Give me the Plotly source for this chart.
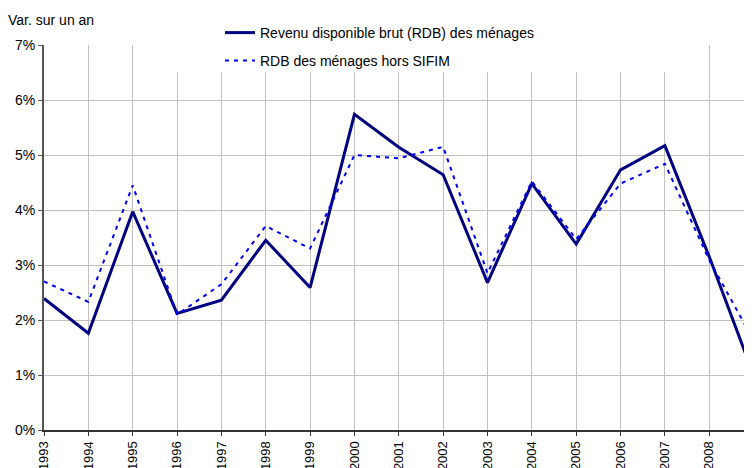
import plotly.graph_objects as go

years = list(range(1993, 2010))
rdb = [2.39, 1.76, 3.97, 2.12, 2.36, 3.45, 2.59, 5.74, 5.14, 4.64, 2.68, 4.48, 3.38, 4.73, 5.17, 3.15, 1.0]
rdb_hors_sifim = [2.70, 2.33, 4.45, 2.10, 2.65, 3.71, 3.30, 5.00, 4.94, 5.15, 2.85, 4.52, 3.47, 4.48, 4.84, 3.09, 1.63]
y_ticks = [0, 1, 2, 3, 4, 5, 6, 7]
y_labels = [f"{v}%" for v in y_ticks]
name1 = "Revenu disponible brut (RDB) des ménages"
name2 = "RDB des ménages hors SIFIM"
ylabel = "Var. sur un an"

# the page body has an 8px default margin: figure is offset by 8px
OFF = 8
W, H = 752, 468 - OFF
ML, MR, MT, MB = 44 - OFF, OFF, 45 - OFF, H - (430 - OFF)
pw = W - ML - MR
ph = H - MT - MB
step = 44.35

def px_x(p):
    return (p - OFF - ML) / pw

def px_y(p):
    return (H - MB - (p - OFF)) / ph

font = "Liberation Sans, Arial, sans-serif"

fig = go.Figure()
fig.add_trace(go.Scatter(x=years, y=rdb, mode="lines", name=name1,
                         line=dict(color="#000080", width=3), legend="legend"))
fig.add_trace(go.Scatter(x=years, y=rdb_hors_sifim, mode="lines", name=name2,
                         line=dict(color="#0000FF", width=2, dash="4px,5px"), legend="legend2"))

x_end = 1993 + pw / step

fig.update_layout(
    width=W, height=H,
    margin=dict(l=ML, r=MR, t=MT, b=MB, pad=0, autoexpand=False),
    paper_bgcolor="white", plot_bgcolor="white",
    font=dict(family=font, size=14, color="#000000"),
    xaxis=dict(range=[1993, x_end], tickmode="array", tickvals=years,
               ticktext=[str(y) for y in years], tickangle=-90, automargin=False,
               showgrid=True, gridcolor="#c0c0c0", gridwidth=1,
               showline=True, linecolor="#333333", linewidth=2,
               ticks="outside", ticklen=4, tickcolor="#333333",
               tickfont=dict(size=13, family=font), zeroline=False),
    yaxis=dict(range=[0, 7], tickmode="array", tickvals=y_ticks, ticktext=y_labels,
               automargin=False,
               showgrid=True, gridcolor="#c0c0c0", gridwidth=1,
               showline=True, linecolor="#555555", linewidth=2,
               ticks="outside", ticklen=4, tickcolor="#555555",
               tickfont=dict(size=14, family=font), zeroline=False),
    legend=dict(x=px_x(220), y=px_y(33), xanchor="left", yanchor="middle",
                bgcolor="rgba(0,0,0,0)", font=dict(size=14, family=font)),
    legend2=dict(x=px_x(220), y=px_y(61), xanchor="left", yanchor="middle",
                 bgcolor="rgba(0,0,0,0)", font=dict(size=14, family=font)),
    showlegend=True,
)

fig.add_shape(type="rect", xref="paper", yref="paper",
              x0=px_x(146), x1=px_x(668), y0=px_y(72), y1=px_y(OFF),
              fillcolor="white", line=dict(width=0), layer="above")

fig.add_annotation(text=ylabel, xref="paper", yref="paper",
                   x=px_x(6), y=px_y(20), xanchor="left", yanchor="middle",
                   showarrow=False, font=dict(size=14, family=font))
fig.add_annotation(text="2009", xref="paper", yref="paper",
                   x=px_x(44 + 16 * step), y=px_y(436), xanchor="center", yanchor="top",
                   textangle=-90, showarrow=False, font=dict(size=13, family=font))

fig.write_html("out.html")
